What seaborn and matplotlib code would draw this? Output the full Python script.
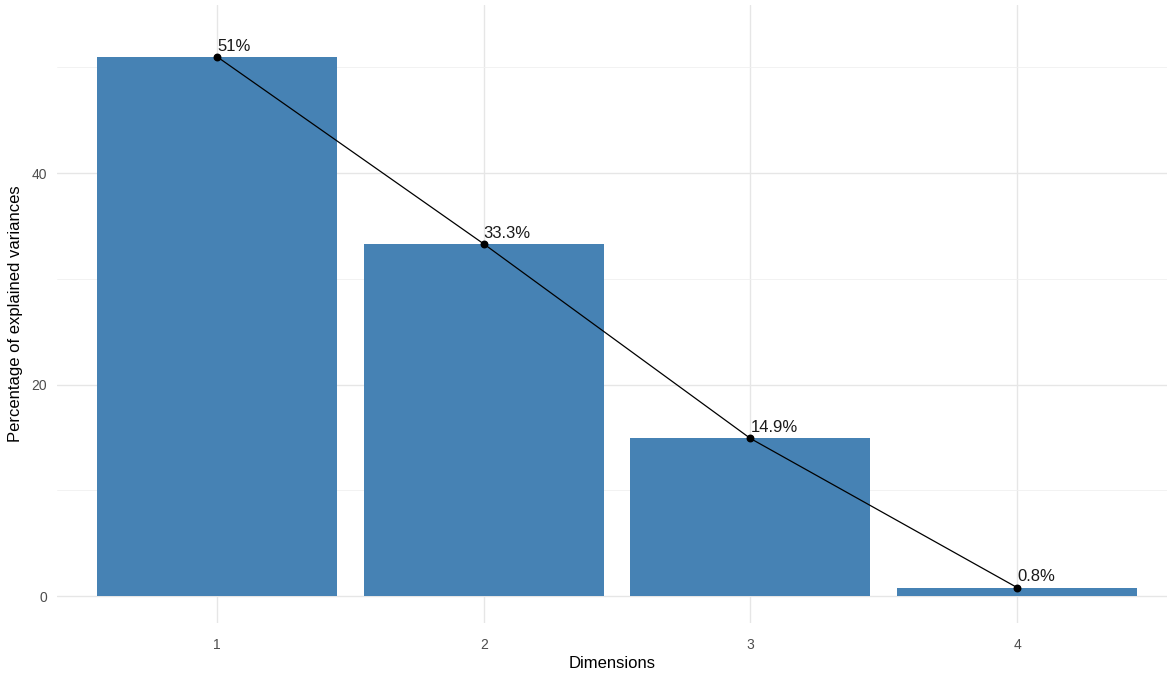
import pandas as pd
import matplotlib
matplotlib.use("Agg")
import matplotlib.pyplot as plt
import seaborn as sns
from matplotlib.ticker import MultipleLocator

dimensions = ["1", "2", "3", "4"]
variances = [51.0, 33.3, 14.9, 0.8]
labels = ["51%", "33.3%", "14.9%", "0.8%"]


def main():
    df = pd.DataFrame({"dim": dimensions, "var": variances})

    sns.set_theme(style="white")
    plt.rcParams["font.family"] = ["Liberation Sans", "DejaVu Sans"]

    fig = plt.figure(figsize=(11.67, 6.79), dpi=100)
    ax = fig.add_axes([57 / 1167, 56 / 679, 1110 / 1167, 618 / 679])

    sns.barplot(data=df, x="dim", y="var", order=dimensions, color="#4682B4",
                saturation=1, width=0.9, linewidth=0, ax=ax, zorder=2)
    xs = list(range(len(dimensions)))
    ax.plot(xs, variances, color="black", lw=0.9, zorder=3)
    ax.scatter(xs, variances, color="black", s=22, zorder=4)
    for x, v, lab in zip(xs, variances, labels):
        ax.text(x, v + 0.3, lab, ha="left", va="bottom", fontsize=12,
                color="#1a1a1a", zorder=5)

    ax.set_xlim(-0.6, 3.562)
    ax.set_ylim(-2.55, 55.89)
    ax.yaxis.set_major_locator(MultipleLocator(20))
    ax.yaxis.set_minor_locator(MultipleLocator(10))
    ax.grid(True, which="major", color="#e6e6e6", lw=1.0, zorder=0)
    ax.grid(True, which="minor", axis="y", color="#f0f0f0", lw=0.6, zorder=0)
    ax.set_axisbelow(True)
    for s in ax.spines.values():
        s.set_visible(False)
    ax.tick_params(axis="both", which="major", length=3, width=0.6,
                   color="#4d4d4d", labelcolor="#4d4d4d", labelsize=10, pad=4)
    ax.tick_params(axis="y", which="minor", length=0)
    ax.tick_params(axis="x", pad=8)
    ax.set_xlabel("Dimensions", fontsize=12, color="black", labelpad=3)
    ax.set_ylabel("Percentage of explained variances", fontsize=12,
                  color="black", labelpad=6)

    fig.savefig("out.png", dpi=100)


if __name__ == "__main__":
    main()
